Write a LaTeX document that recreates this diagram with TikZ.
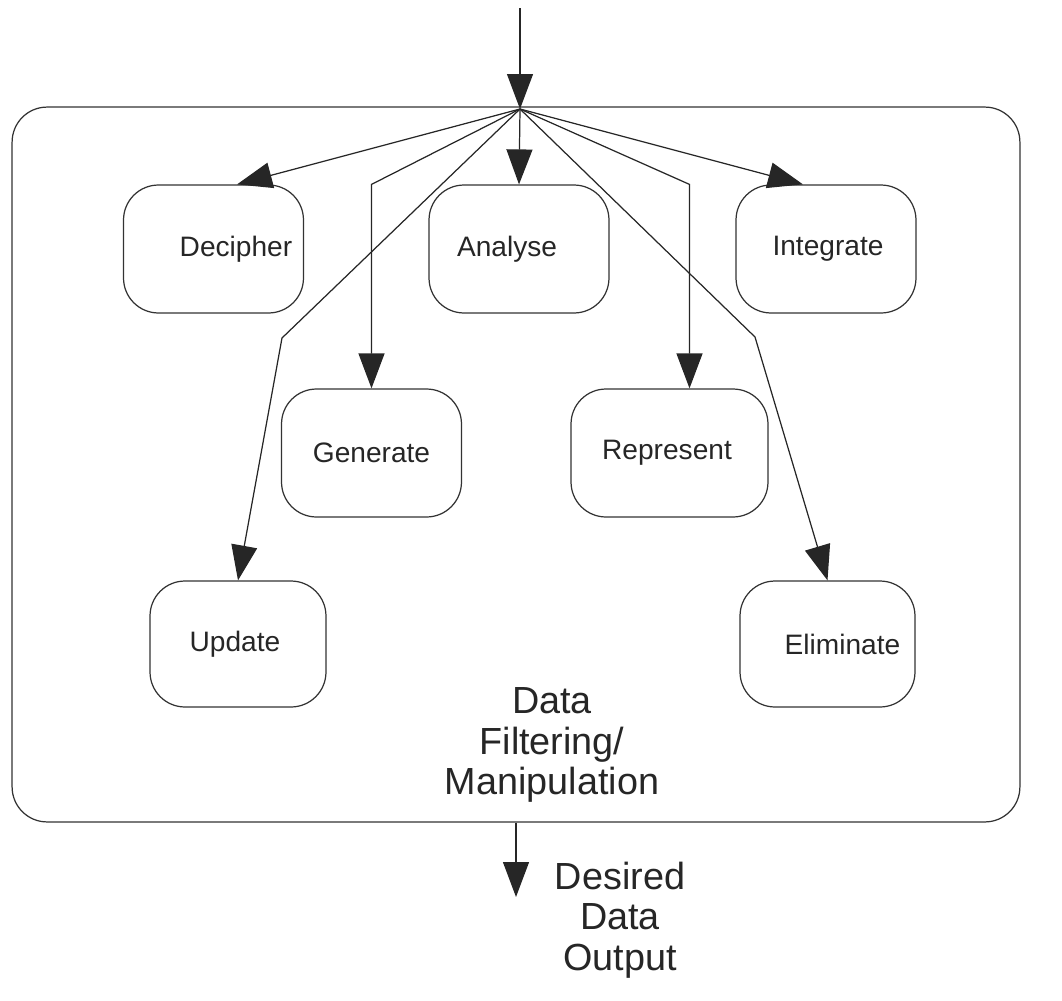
\documentclass[tikz,border=0pt]{standalone}
\usepackage{fontspec}
\setmainfont{Liberation Sans}
\usetikzlibrary{arrows.meta}

\tikzset{
  box/.style={draw=black!80, rounded corners=0.7cm, minimum width=3.6cm,
    minimum height=2.56cm, inner sep=0pt, line width=0.7pt},
  boxtxt/.style={text=black!85, font=\fontsize{16}{19}\selectfont},
  bigtxt/.style={align=center, text=black!85, font=\fontsize{21.5}{23}\selectfont},
  flow/.style={->, draw=black!85, line width=0.7pt}
}

\begin{document}
\begin{tikzpicture}[%
    >={Triangle[length=0.7cm,width=0.52cm]},   % big filled heads as in the scan
    x=0.02cm,                                  % one unit = one pixel of the scan
    y=-0.02cm
    ]
    \useasboundingbox (0,0) rectangle (1062,1001);

    % the filtering stage
    \node[box, minimum width=20.16cm, minimum height=14.3cm] (frame) at (516,464.5) {};
    \node[bigtxt] (flt) at (552,745) {Data\\Filtering/\\Manipulation};

    % the tasks
    \node[box, label={[boxtxt, xshift=0.45cm]center:Decipher}] (dec) at (213.5,249) {};
    \node[box, label={[boxtxt, xshift=-0.24cm]center:Analyse}] (ana) at (519,249) {};
    \node[box, label={[boxtxt, xshift=0.04cm]center:Integrate}] (int) at (826,249) {};
    \node[box, label={[boxtxt]center:Generate}] (gen) at (371.5,453) {};
    \node[box, minimum width=3.94cm, label={[boxtxt, xshift=-0.05cm]center:Represent}] (rep) at (669.5,453) {};
    \node[box, minimum width=3.52cm, minimum height=2.52cm, label={[boxtxt, xshift=-0.06cm]center:Update}] (upd) at (238,644) {};
    \node[box, minimum width=3.5cm, minimum height=2.52cm, label={[boxtxt, xshift=0.3cm]center:Eliminate}] (eli) at (827.5,644) {};

    % where the data comes in and goes out
    \coordinate (src) at (520,8);
    \coordinate (hub) at (520,109);
    \coordinate (sink) at (516,897);
    \coordinate (repin) at ([shift={(20,0)}]rep.north);
    \node[bigtxt] (res) at (620,920) {Desired\\Data\\Output};

    \draw[flow] (src) -- (hub);
    \draw[flow] (hub) -- ([shift={(23.5,0)}]dec.north);
    \draw[flow] (hub) -- (ana.north);
    \draw[flow] (hub) -- ([shift={(-23,0)}]int.north);
    \draw[flow] (hub) -- (gen.north |- ana.north) -- (gen.north);
    \draw[flow] (hub) -- (repin |- ana.north) -- (repin);
    \draw[flow] (hub) -- (282,338) -- (upd.north);
    \draw[flow] (hub) -- (755,337) -- (eli.north);
    \draw[flow] (frame.south) -- (sink);
\end{tikzpicture}
\end{document}
